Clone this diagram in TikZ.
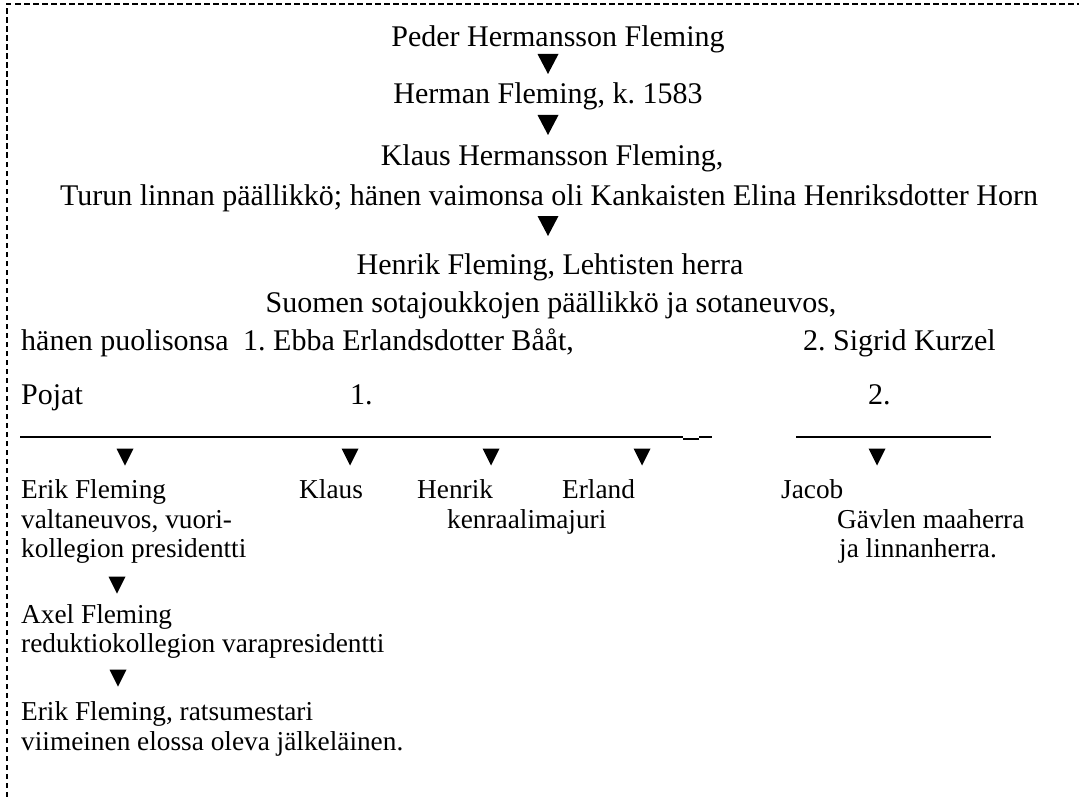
\documentclass[tikz,border=0pt]{standalone}
\usepackage{fontspec}
\setmainfont{Liberation Serif}
\frenchspacing
\newcommand\bigf{\fontsize{30pt}{32pt}\selectfont}
\newcommand\smallf{\fontsize{27.3pt}{30pt}\selectfont}
\tikzset{
  ctxt/.style={inner sep=0pt, anchor=base, font=\bigf},
  btxt/.style={inner sep=0pt, anchor=base west, font=\bigf},
  stxt/.style={inner sep=0pt, anchor=base west, font=\smallf},
  frame/.style={line width=2pt, dash pattern=on 5.5pt off 3.5pt},
  uline/.style={line width=1.6pt},
  trib/.pic={\fill (-10.5,-10) -- (10.5,-10) -- (0,10) -- cycle;},
  tris/.pic={\fill (-8.5,-8.5) -- (8.5,-8.5) -- (0,8.5) -- cycle;},
}
\begin{document}
\begin{tikzpicture}[x=1pt,y=-1pt]
\useasboundingbox (0,0) rectangle (1079,797);
\draw[frame] (7,797) -- (7,4) -- (1079,4);
% top chain
\node[ctxt] (peder) at (558,47) {Peder Hermansson Fleming};
\pic (t1) at (548,64) {trib};
\node[ctxt] (herman) at (548,104) {Herman Fleming, k. 1583};
\pic (t2) at (548,125) {trib};
\node[ctxt] (klaus) at (552,165) {Klaus Hermansson Fleming,};
\node[ctxt] (turun) at (549,205) {Turun linnan päällikkö; hänen vaimonsa oli Kankaisten Elina Henriksdotter Horn};
\pic (t3) at (548,226) {trib};
\node[ctxt] (henrik) at (550,274) {Henrik Fleming, Lehtisten herra};
\node[ctxt] (suomen) at (551,312) {Suomen sotajoukkojen päällikkö ja sotaneuvos,};
\node[btxt] (puol) at (21,350) {hänen puolisonsa};
\node[btxt] (ebba) at (243,350) {1. Ebba Erlandsdotter Bååt,};
\node[btxt] (sigrid) at (803,350) {2. Sigrid Kurzel};
\node[btxt] (pojat) at (21,404) {Pojat};
\node[btxt] (one) at (350,404) {1.};
\node[btxt] (two) at (868,404) {2.};
% underscores
\draw[uline] (20,437) -- (683,437);
\draw[line width=2.5pt] (683,439) -- (699,439);
\draw[uline] (699,437) -- (712,437);
\draw[uline] (796,437) -- (991,437);
% sons
\pic (s1) at (125,457) {tris};
\pic (s2) at (350,457) {tris};
\pic (s3) at (491,457) {tris};
\pic (s4) at (642,457) {tris};
\pic (s5) at (877,457) {tris};
\node[stxt] (erik) at (21,498) {Erik Fleming};
\node[stxt] (klaus2) at (299,498) {Klaus};
\node[stxt] (henrik2) at (417,498) {Henrik};
\node[stxt] (erland) at (562,498) {Erland};
\node[stxt] (jacob) at (781,498) {Jacob};
\node[stxt] (valt) at (21,528) {valtaneuvos, vuori-};
\node[stxt] (kenr) at (447,528) {kenraalimajuri};
\node[stxt] (gavle) at (837,528) {Gävlen maaherra};
\node[stxt] (koll) at (21,557) {kollegion presidentti};
\node[stxt] (linna) at (839,557) {ja linnanherra.};
\pic (s6) at (117,585) {tris};
\node[stxt] (axel) at (21,623) {Axel Fleming};
\node[stxt] (redu) at (21,652) {reduktiokollegion varapresidentti};
\pic (s7) at (118,678) {tris};
\node[stxt] (erik3) at (21,720) {Erik Fleming, ratsumestari};
\node[stxt] (viim) at (21,750) {viimeinen elossa oleva jälkeläinen.};
\end{tikzpicture}
\end{document}
